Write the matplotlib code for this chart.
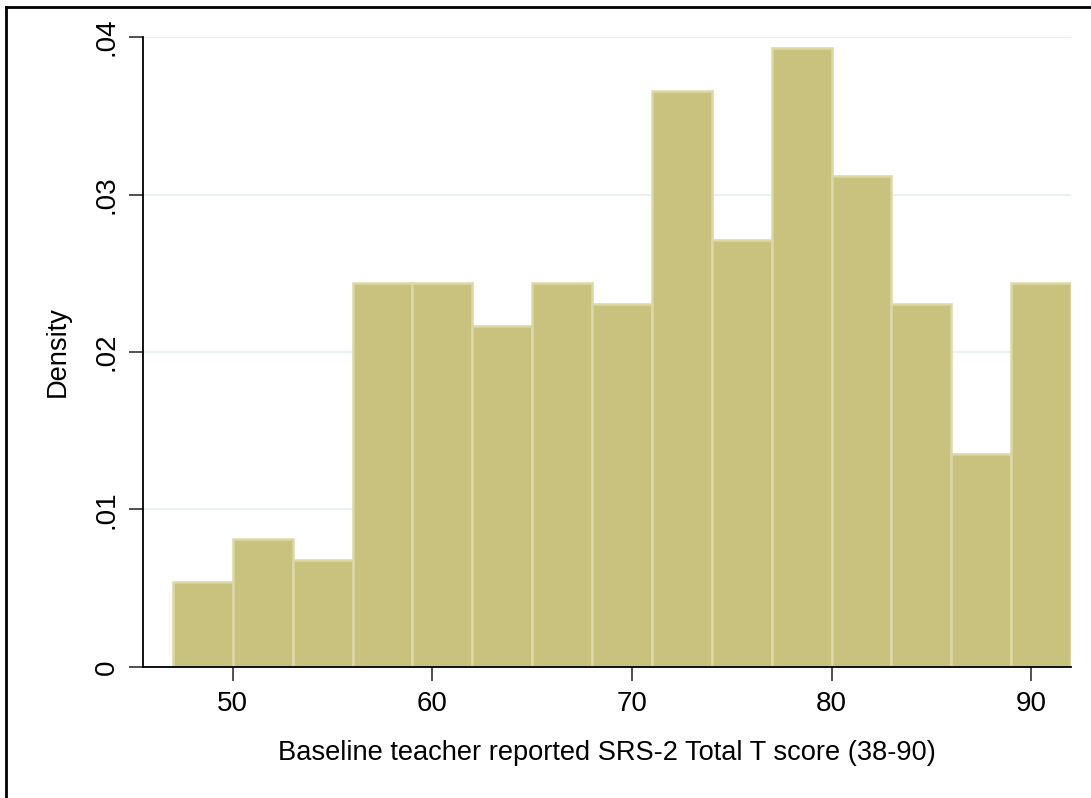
import numpy as np
import matplotlib
matplotlib.use("Agg")
import matplotlib.pyplot as plt
from matplotlib.lines import Line2D

# histogram bins (width 3) and densities
bin_edges = [47, 50, 53, 56, 59, 62, 65, 68, 71, 74, 77, 80, 83, 86, 89, 92]
density = [0.00542, 0.00813, 0.00678, 0.02439, 0.02439, 0.02168, 0.02439,
           0.02304, 0.03659, 0.02710, 0.03930, 0.03117, 0.02304, 0.01355, 0.02439]
x_ticks = [50, 60, 70, 80, 90]
y_ticks = [0, 0.01, 0.02, 0.03, 0.04]
y_ticklabels = ['0', '.01', '.02', '.03', '.04']

plt.rcParams['font.family'] = ['Liberation Sans', 'DejaVu Sans']

fig = plt.figure(figsize=(10.91, 7.98), dpi=100)
ax = fig.add_axes([0.1311, 0.1642, 0.8506, 0.7894])

left = np.array(bin_edges[:-1])
width = np.diff(bin_edges)
ax.bar(left, density, width=width, align='edge', color='#c9c27f',
       edgecolor='#dcd7a6', linewidth=1.8, zorder=2)

ax.set_xlim(45.5, 92)
ax.set_ylim(0, 0.04)
ax.set_xticks(x_ticks)
ax.set_yticks(y_ticks)
ax.set_yticklabels(y_ticklabels, rotation=90, va='center')
ax.grid(axis='y', color='#e8f0f2', linewidth=1.5, zorder=0)
ax.set_axisbelow(True)

for s in ['top', 'right']:
    ax.spines[s].set_visible(False)
ax.spines['left'].set_linewidth(1.3)
ax.spines['bottom'].set_linewidth(1.3)
ax.tick_params(axis='both', length=10, width=1.2, color='#333333',
               labelsize=20, pad=7)

ax.set_xlabel('Baseline teacher reported SRS-2 Total T score (38-90)',
              fontsize=19.6, labelpad=17)
ax.set_ylabel('Density', fontsize=19.6, labelpad=16)

# outer frame (only left and top edges visible in the crop)
fig.add_artist(Line2D([0.0055, 0.0055], [0, 0.991], transform=fig.transFigure,
                      color='black', linewidth=2))
fig.add_artist(Line2D([0.0055, 1], [0.991, 0.991], transform=fig.transFigure,
                      color='black', linewidth=2))

plt.savefig('out.png', dpi=100)
